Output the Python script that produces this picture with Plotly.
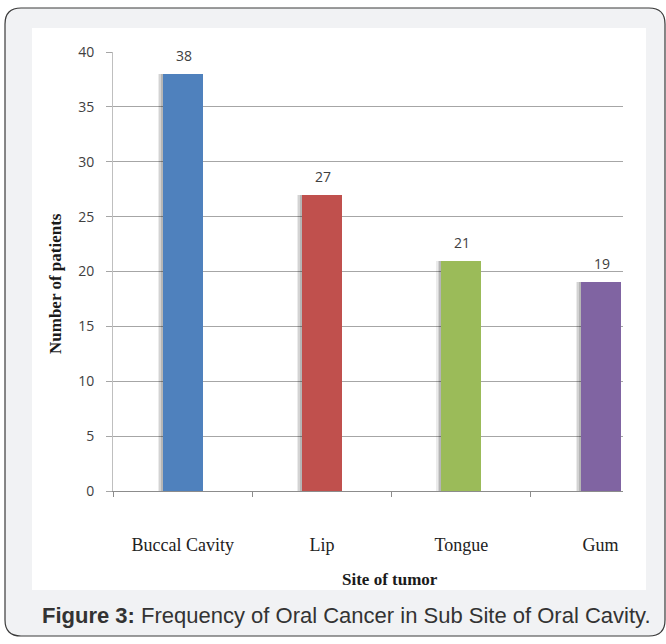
import plotly.graph_objects as go

# ---- data ----
sites = ["Buccal Cavity", "Lip", "Tongue", "Gum"]
patients = [38, 27, 21, 19]
bar_colors = ["#4F81BD", "#C0504D", "#9BBB59", "#8064A2"]
y_ticks = [0, 5, 10, 15, 20, 25, 30, 35, 40]

W, H = 666, 644
L, R, T, B = 113, 623, 52, 491  # plot area in px
SPACING = 139.3                 # px per category
BAR_W = 0.287


def px(x):
    return (x - L) / (R - L)


def py(y):
    return (B - y) / (B - T)


fig = go.Figure()

# soft shadow to the left of each bar
for shift, alpha in [(5, 0.08), (3.5, 0.10), (2, 0.14)]:
    fig.add_trace(go.Bar(
        x=sites, y=patients, width=BAR_W, offset=-BAR_W / 2 - shift / SPACING,
        marker=dict(color=f"rgba(0,0,0,{alpha})", line=dict(width=0)),
        hoverinfo="skip", showlegend=False,
    ))
fig.add_trace(go.Bar(
    x=sites, y=patients, width=BAR_W, offset=-BAR_W / 2,
    marker=dict(color=bar_colors, line=dict(width=0)),
    showlegend=False,
))

annotations = []
for s, v in zip(sites, patients):
    annotations.append(dict(
        x=s, y=v, xref="x", yref="y", text=str(v), showarrow=False,
        yanchor="bottom", xanchor="center", yshift=7, xshift=1,
        font=dict(family="Open Sans, Liberation Sans, sans-serif", size=14, color="#404040"),
    ))


def rounded_rect(x0, y0, x1, y1, r):
    def P(x, y):
        return f"{px(x):.5f},{py(y):.5f}"
    return (f"M {P(x0 + r, y0)} L {P(x1 - r, y0)} Q {P(x1, y0)} {P(x1, y0 + r)} "
            f"L {P(x1, y1 - r)} Q {P(x1, y1)} {P(x1 - r, y1)} "
            f"L {P(x0 + r, y1)} Q {P(x0, y1)} {P(x0, y1 - r)} "
            f"L {P(x0, y0 + r)} Q {P(x0, y0)} {P(x0 + r, y0)} Z")


shapes = [
    dict(type="path", xref="paper", yref="paper", layer="below",
         path=rounded_rect(5, 8, 665, 636, 16),
         fillcolor="#F1F2F4", line=dict(color="#3A3A3A", width=1.2)),
    dict(type="rect", xref="paper", yref="paper", layer="below",
         x0=px(32), x1=px(646), y0=py(590), y1=py(28),
         fillcolor="white", line=dict(width=0)),
]

annotations += [
    dict(text="<b>Number of patients</b>", xref="paper", yref="paper",
         x=px(55), y=py(284), textangle=-90, showarrow=False,
         font=dict(family="Liberation Serif, Times New Roman, serif", size=17, color="#1a1a1a"),
         xanchor="center", yanchor="middle"),
    dict(text="<b>Site of tumor</b>", xref="paper", yref="paper",
         x=px(390), y=py(579), showarrow=False,
         font=dict(family="Liberation Serif, Times New Roman, serif", size=17, color="#1a1a1a"),
         xanchor="center", yanchor="middle"),
    dict(text="<b>Figure 3:</b> Frequency of Oral Cancer in Sub Site of Oral Cavity.",
         xref="paper", yref="paper", x=px(40), y=py(615), showarrow=False,
         font=dict(family="Liberation Sans, Arial, sans-serif", size=22, color="#333333"),
         xanchor="left", yanchor="middle"),
]

fig.update_layout(
    width=W, height=H,
    margin=dict(l=L, r=W - R, t=T, b=H - B, pad=0),
    paper_bgcolor="white", plot_bgcolor="rgba(0,0,0,0)",
    barmode="overlay", bargap=0,
    shapes=shapes, annotations=annotations,
    xaxis=dict(
        type="category", range=[-0.5, (R - L) / SPACING - 0.5],
        showgrid=False, showline=True, linecolor="#8C8C8C", linewidth=1,
        ticks="outside", tickson="boundaries", ticklen=5, tickcolor="#8C8C8C",
        tickfont=dict(family="Liberation Serif, Times New Roman, serif", size=18, color="#222222"),
        ticklabelstandoff=37, fixedrange=True,
    ),
    yaxis=dict(
        range=[0, 40], tickvals=y_ticks,
        showgrid=True, gridcolor="#A6A6A6", gridwidth=1,
        showline=True, linecolor="#BFBFBF", linewidth=1,
        ticks="outside", ticklen=6, tickcolor="#A6A6A6",
        tickfont=dict(family="Open Sans, Liberation Sans, sans-serif", size=14, color="#404040"),
        ticklabelstandoff=9, zeroline=False, fixedrange=True,
    ),
)

fig.write_html(
    "out.html",
    config={"displayModeBar": False, "staticPlot": True},
    post_script="document.body.style.margin='0px';document.body.style.overflow='hidden';",
)
